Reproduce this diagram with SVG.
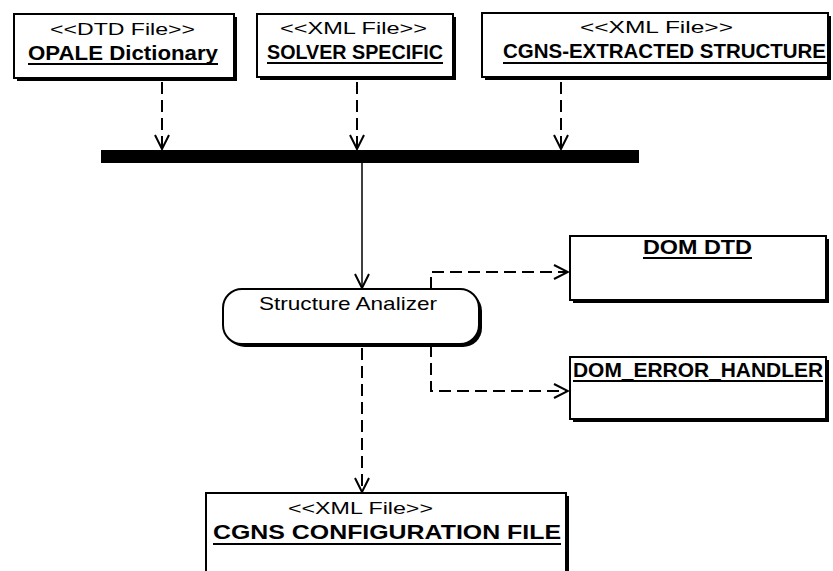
<svg xmlns="http://www.w3.org/2000/svg" width="833" height="571" viewBox="0 0 833 571">
  <style>
    .box { fill: #ffffff; stroke: #000000; stroke-width: 2; }
    .shadow { fill: #000000; }
    .stereo { font-family: "Liberation Sans", Arial, sans-serif; font-size: 17px; fill: #000000; }
    .name { font-family: "Liberation Sans", Arial, sans-serif; font-size: 19.5px; font-weight: bold; fill: #000000; }
    .act { font-family: "Liberation Sans", Arial, sans-serif; font-size: 19px; fill: #000000; }
    .uline { stroke: #000000; stroke-width: 2; }
    .dep { fill: none; stroke: #000000; stroke-width: 2; stroke-dasharray: 12 6; }
    .flow { fill: none; stroke: #000000; stroke-width: 1.5; }
  </style>
  <defs>
    <marker id="open" viewBox="0 0 16 16" refX="15" refY="8" markerWidth="16" markerHeight="16" markerUnits="userSpaceOnUse" orient="auto">
      <path d="M1,1 L15,8 L1,15" fill="none" stroke="#000000" stroke-width="2"/>
    </marker>
  </defs>

  <rect width="833" height="571" fill="#ffffff"/>

  <!-- connectors -->
  <g id="connectors">
    <line class="dep" x1="162" y1="82" x2="162" y2="149" marker-end="url(#open)"/>
    <line class="dep" x1="357" y1="82" x2="357" y2="149" marker-end="url(#open)"/>
    <line class="dep" x1="561" y1="82" x2="561" y2="149" marker-end="url(#open)"/>
    <line class="flow" x1="362" y1="163" x2="362" y2="288" marker-end="url(#open)"/>
    <path class="dep" d="M431,289 V272 H568" marker-end="url(#open)"/>
    <path class="dep" d="M431,345 V391 H568" marker-end="url(#open)"/>
    <line class="dep" x1="362" y1="348" x2="362" y2="492" marker-end="url(#open)"/>
  </g>

  <!-- synchronisation bar -->
  <g id="join-bar">
    <rect x="101" y="150" width="538" height="13" fill="#000000"/>
  </g>

  <g id="opale-dictionary">
    <rect class="shadow" x="17" y="17" width="220" height="64"/>
    <rect class="box" x="14" y="14" width="220" height="64"/>
    <text class="stereo" x="50" y="35" textLength="145" lengthAdjust="spacingAndGlyphs">&lt;&lt;DTD File&gt;&gt;</text>
    <text class="name" x="28" y="60" textLength="190" lengthAdjust="spacingAndGlyphs">OPALE Dictionary</text>
    <line class="uline" x1="28" y1="64" x2="218" y2="64"/>
  </g>

  <g id="solver-specific">
    <rect class="shadow" x="260" y="17" width="196" height="63"/>
    <rect class="box" x="257" y="14" width="196" height="63"/>
    <text class="stereo" x="280" y="34" textLength="147" lengthAdjust="spacingAndGlyphs">&lt;&lt;XML File&gt;&gt;</text>
    <text class="name" x="267" y="59" textLength="176" lengthAdjust="spacingAndGlyphs">SOLVER SPECIFIC</text>
    <line class="uline" x1="267" y1="63" x2="443" y2="63"/>
  </g>

  <g id="cgns-extracted-structure">
    <rect class="shadow" x="485" y="16" width="346" height="64"/>
    <rect class="box" x="482" y="13" width="346" height="64"/>
    <text class="stereo" x="580" y="33" textLength="153" lengthAdjust="spacingAndGlyphs">&lt;&lt;XML File&gt;&gt;</text>
    <text class="name" x="503" y="58" textLength="323" lengthAdjust="spacingAndGlyphs">CGNS-EXTRACTED STRUCTURE</text>
    <line class="uline" x1="503" y1="63" x2="827" y2="63"/>
  </g>

  <g id="structure-analizer">
    <rect class="shadow" x="226" y="292" width="256" height="55" rx="19" ry="19"/>
    <rect class="box" x="223" y="289" width="256" height="55" rx="19" ry="19"/>
    <text class="act" x="259" y="310" textLength="178" lengthAdjust="spacingAndGlyphs">Structure Analizer</text>
  </g>

  <g id="dom-dtd">
    <rect class="shadow" x="573" y="239" width="256" height="64"/>
    <rect class="box" x="570" y="236" width="256" height="64"/>
    <text class="name" x="643" y="254" textLength="109" lengthAdjust="spacingAndGlyphs">DOM DTD</text>
    <line class="uline" x1="643" y1="258" x2="752" y2="258"/>
  </g>

  <g id="dom-error-handler">
    <rect class="shadow" x="573" y="360" width="256" height="62"/>
    <rect class="box" x="570" y="357" width="256" height="62"/>
    <text class="name" x="573" y="377" textLength="250" lengthAdjust="spacingAndGlyphs">DOM_ERROR_HANDLER</text>
    <line class="uline" x1="573" y1="381" x2="823" y2="381"/>
  </g>

  <g id="cgns-configuration-file">
    <rect class="shadow" x="209" y="496" width="360" height="90"/>
    <rect class="box" x="206" y="493" width="360" height="90"/>
    <text class="stereo" x="288" y="514" textLength="145" lengthAdjust="spacingAndGlyphs">&lt;&lt;XML File&gt;&gt;</text>
    <text class="name" x="213" y="539" textLength="348" lengthAdjust="spacingAndGlyphs">CGNS CONFIGURATION FILE</text>
    <line class="uline" x1="213" y1="544" x2="561" y2="544"/>
  </g>
</svg>
